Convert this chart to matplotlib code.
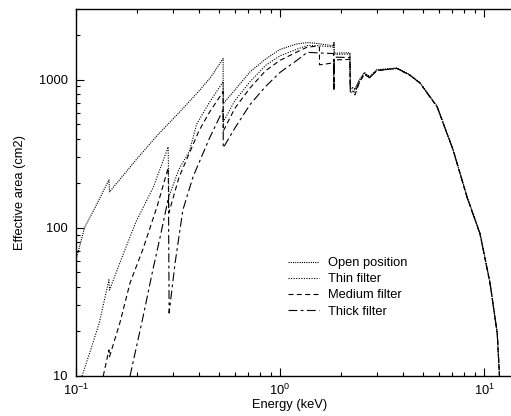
import numpy as np
import matplotlib
matplotlib.use("Agg")
import matplotlib.pyplot as plt
from matplotlib.ticker import LogLocator, FixedLocator, FixedFormatter, NullFormatter

plt.rcParams['font.family'] = ['Liberation Sans', 'DejaVu Sans']
plt.rcParams['mathtext.fontset'] = 'custom'
plt.rcParams['mathtext.rm'] = 'Liberation Sans'

# effective area curves (energy in keV, area in cm2)
open_E = [0.100, 0.105, 0.110, 0.125, 0.145, 0.146, 0.170, 0.197, 0.25, 0.32, 0.406, 0.46, 0.526,
          0.527, 0.60, 0.713, 0.85, 1.0, 1.2, 1.36, 1.5, 1.83, 1.838, 1.842, 2.2, 2.21, 2.33,
          2.45, 2.59, 2.75, 2.98, 3.3, 3.75, 4.33, 4.85, 5.89, 7.05, 8.26, 9.55, 10.7, 11.6, 11.9, 12.1]
open_A = [61, 78, 100, 140, 211, 175, 225, 288, 420, 600, 855, 1050, 1390,
          690, 850, 1130, 1380, 1600, 1740, 1780, 1760, 1690, 1800, 1510, 1520, 900, 870,
          1000, 1120, 1050, 1170, 1180, 1200, 1080, 955, 660, 337, 162, 92, 42.5, 19.5, 10, 7]

thin_E = [0.107, 0.118, 0.130, 0.145, 0.146, 0.164, 0.184, 0.197, 0.24, 0.283, 0.285, 0.32, 0.36,
          0.39, 0.45, 0.526, 0.527, 0.60, 0.713, 0.85, 1.0, 1.2, 1.36, 1.5, 1.83, 1.838, 1.842,
          2.2, 2.21, 2.33, 2.45, 2.59, 2.75, 2.98, 3.3, 3.75, 4.33, 4.85, 5.89, 7.05, 8.26, 9.55,
          10.7, 11.6, 11.9, 12.1]
thin_A = [10, 15, 22.8, 44.6, 38, 58, 87, 110, 190, 352, 162, 250, 330,
          500, 700, 970, 520, 720, 970, 1250, 1450, 1600, 1700, 1700, 1660, 1750, 1480,
          1490, 880, 850, 990, 1110, 1040, 1160, 1175, 1195, 1075, 950, 658, 336, 161, 92,
          42.5, 19.5, 10, 7]

med_E = [0.136, 0.145, 0.146, 0.164, 0.184, 0.213, 0.25, 0.283, 0.285, 0.32, 0.40, 0.45, 0.526,
         0.527, 0.60, 0.713, 0.85, 1.0, 1.2, 1.36, 1.5, 1.56, 1.561, 1.7, 1.83, 1.838, 1.842,
         2.2, 2.21, 2.33, 2.45, 2.59, 2.75, 2.98, 3.3, 3.75, 4.33, 4.85, 5.89, 7.05, 8.26, 9.55,
         10.7, 11.6, 11.9, 12.1]
med_A = [10, 15, 13.5, 22.8, 42.5, 72, 140, 254, 126, 220, 450, 600, 830,
         450, 640, 880, 1150, 1350, 1530, 1660, 1680, 1660, 1260, 1280, 1300, 860, 1360,
         1370, 830, 790, 960, 1090, 1030, 1150, 1170, 1190, 1070, 950, 655, 335, 160, 91,
         42, 19.4, 10, 7]

thick_E = [0.184, 0.213, 0.238, 0.26, 0.284, 0.286, 0.306, 0.334, 0.375, 0.45, 0.526, 0.527, 0.60,
           0.713, 0.85, 1.0, 1.2, 1.36, 1.5, 1.83, 1.838, 1.842, 2.2, 2.21, 2.33, 2.45, 2.59,
           2.75, 2.98, 3.3, 3.75, 4.33, 4.85, 5.89, 7.05, 8.26, 9.55, 10.7, 11.6, 11.9, 12.1]
thick_A = [10, 25, 52, 90, 160, 26.6, 58, 132, 222, 400, 627, 347, 470,
           680, 900, 1120, 1340, 1530, 1520, 1500, 880, 1420, 1410, 850, 820, 970, 1090,
           1030, 1150, 1170, 1190, 1070, 950, 655, 335, 160, 91, 42, 19.4, 10, 7]

labels = ["Open position", "Thin filter", "Medium filter", "Thick filter"]

W, H = 511, 416
fs = 9.3
fig = plt.figure(figsize=(W/100, H/100), dpi=100, facecolor="white")
# right edge of the frame sits just outside the picture
ax = fig.add_axes([76/W, (H-376)/H, (520-76)/W, (376-9)/H])

lw = 0.8
ax.plot(open_E, open_A, color='black', lw=lw, ls=(0, (1, 1)), label=labels[0])
ax.plot(thin_E, thin_A, color='black', lw=lw, ls=(0, (1, 1.3)), label=labels[1])
ax.plot(med_E, med_A, color='black', lw=lw, ls=(0, (4.5, 3)), label=labels[2])
ax.plot(thick_E, thick_A, color='black', lw=lw, ls=(0, (8, 3, 2.5, 3)), label=labels[3])

ax.set_xscale('log')
ax.set_yscale('log')
ax.set_xlim(0.1, 15)
ax.set_ylim(10, 3000)

ax.xaxis.set_major_locator(LogLocator(base=10, numticks=10))
ax.xaxis.set_minor_locator(LogLocator(base=10, subs=np.arange(2, 10), numticks=20))
ax.xaxis.set_minor_formatter(NullFormatter())
ax.yaxis.set_major_locator(FixedLocator([10, 100, 1000]))
ax.yaxis.set_major_formatter(FixedFormatter(["10", "100", "1000"]))
ax.yaxis.set_minor_locator(LogLocator(base=10, subs=np.arange(2, 10), numticks=20))
ax.yaxis.set_minor_formatter(NullFormatter())

ax.tick_params(which='both', direction='in', top=True, right=False, labelsize=fs, width=0.8)
ax.tick_params(which='major', length=6)
ax.tick_params(which='minor', length=3)
ax.tick_params(axis='y', which='major', pad=6)
ax.tick_params(axis='x', which='major', pad=5)
for s in ['left', 'bottom', 'top']:
    ax.spines[s].set_linewidth(1.0)
ax.spines['right'].set_visible(False)

ax.set_xlabel("Energy (keV)", fontsize=fs)
ax.set_ylabel("Effective area (cm2)", fontsize=fs)
ax.xaxis.set_label_coords((290-76)/444, -0.062)
ax.yaxis.set_label_coords(-0.113, 0.5)

leg = ax.legend(loc='upper left', bbox_to_anchor=(288/W, 1-257/H), bbox_transform=fig.transFigure,
                frameon=False, fontsize=fs, handlelength=2.4, handletextpad=0.7,
                labelspacing=0.32, borderpad=0, borderaxespad=0)

fig.savefig("out.png", dpi=100)
